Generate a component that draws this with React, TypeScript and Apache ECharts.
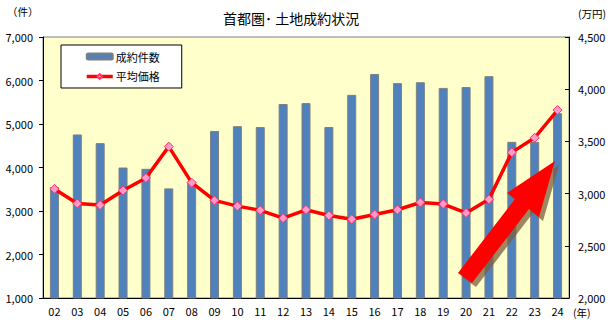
import React, { useEffect, useRef } from "react";
import * as echarts from "echarts";

const categories = ["02","03","04","05","06","07","08","09","10","11","12","13","14","15","16","17","18","19","20","21","22","23","24"];
const contracts = [3550,4760,4560,4000,3970,3520,3680,4840,4950,4930,5460,5480,4930,5670,6150,5940,5960,5830,5850,6100,4590,4590,5250];
const avgPrice = [3045,2905,2890,3030,3150,3450,3105,2935,2880,2840,2765,2845,2790,2755,2800,2845,2915,2900,2815,2945,3395,3535,3800];
const leftTicks = { min: 1000, max: 7000, interval: 1000 };
const rightTicks = { min: 2000, max: 4500, interval: 500 };

const FONT = "'Noto Sans CJK JP', 'Noto Sans', sans-serif";

const arrowPts: number[][] = [
  [458, 273], [515, 199], [507, 193], [555, 161], [539, 217], [529, 209], [472, 283],
];

export default function App() {
  const ref = useRef<HTMLDivElement>(null);
  useEffect(() => {
    if (!ref.current) return;
    const chart = echarts.init(ref.current, undefined, { renderer: "svg" });
    const fmt = (v: number) => v.toLocaleString("en-US");
    chart.setOption({
      animation: false,
      backgroundColor: "#ffffff",
      textStyle: { fontFamily: FONT },
      grid: {
        left: 43, right: 44, top: 37, bottom: 32,
        show: true, backgroundColor: "#ffffcc", borderColor: "#808080", borderWidth: 1,
      },
      legend: {
        orient: "vertical",
        left: 61, top: 45,
        padding: [6, 22, 6, 24],
        itemGap: 9,
        itemWidth: 26,
        itemHeight: 6,
        backgroundColor: "#ffffff",
        borderColor: "#000000",
        borderWidth: 1,
        borderRadius: 0,
        lineStyle: { width: 3.5 },
        textStyle: { fontSize: 11, color: "#000", fontFamily: FONT, padding: [0, 0, 0, -2] },
        data: ["成約件数", "平均価格"],
      },
      xAxis: {
        type: "category",
        data: categories,
        boundaryGap: true,
        axisLine: { lineStyle: { color: "#000", width: 1 } },
        axisTick: { inside: true, length: 4, lineStyle: { color: "#000" } },
        axisLabel: { color: "#000", fontSize: 11, margin: 7, fontFamily: FONT },
      },
      yAxis: [
        {
          type: "value",
          ...leftTicks,
          position: "left",
          splitLine: { show: false },
          axisLine: { show: true, lineStyle: { color: "#000" } },
          axisTick: { show: true, inside: false, length: 4, lineStyle: { color: "#000" } },
          axisLabel: { color: "#000", fontSize: 11, margin: 10, formatter: fmt, fontFamily: FONT },
        },
        {
          type: "value",
          ...rightTicks,
          position: "right",
          splitLine: { show: false },
          axisLine: { show: true, lineStyle: { color: "#000" } },
          axisTick: { show: true, inside: true, length: 4, lineStyle: { color: "#000" } },
          axisLabel: { color: "#000", fontSize: 11, margin: 9, formatter: fmt, fontFamily: FONT },
        },
      ],
      series: [
        {
          name: "成約件数",
          type: "bar",
          data: contracts,
          yAxisIndex: 0,
          barWidth: 9,
          itemStyle: { color: "#4f81bd", borderColor: "#7f7f7f", borderWidth: 1 },
        },
        {
          name: "平均価格",
          type: "line",
          data: avgPrice,
          yAxisIndex: 1,
          symbol: "diamond",
          symbolSize: 9,
          lineStyle: { color: "#ff0000", width: 3.5 },
          itemStyle: { color: "#ff99cc", borderColor: "#ff3366", borderWidth: 1 },
          z: 5,
        },
      ],
      graphic: [
        {
          type: "text", left: 223, top: 11,
          style: { text: "首都圏･ 土地成約状況", fontSize: 14, fill: "#000", fontFamily: FONT },
        },
        {
          type: "text", left: 7, top: 6,
          style: { text: "（件）", fontSize: 10.5, fill: "#000", fontFamily: FONT },
        },
        {
          type: "text", left: 578, top: 8,
          style: { text: "(万円)", fontSize: 10.5, fill: "#000", fontFamily: FONT },
        },
        {
          type: "text", left: 573, top: 307,
          style: { text: "(年)", fontSize: 10.5, fill: "#000", fontFamily: FONT },
        },
        {
          type: "polygon", z: 100, x: 4, y: 4,
          shape: { points: arrowPts },
          style: { fill: "rgba(125,95,60,0.75)" },
        },
        {
          type: "polygon", z: 101,
          shape: { points: arrowPts },
          style: { fill: "#ff0000" },
        },
      ],
    });
    return () => chart.dispose();
  }, []);
  return <div ref={ref} style={{ position: "fixed", left: 0, top: 0, width: 613, height: 330 }} />;
}
